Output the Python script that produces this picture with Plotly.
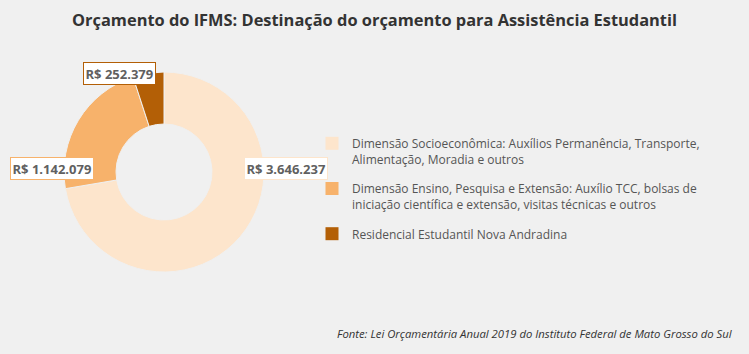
import plotly.graph_objects as go

categories = [
    "Dimensão Socioeconômica: Auxílios Permanência, Transporte,<br>Alimentação, Moradia e outros",
    "Dimensão Ensino, Pesquisa e Extensão: Auxílio TCC, bolsas de<br>iniciação científica e extensão, visitas técnicas e outros",
    "Residencial Estudantil Nova Andradina",
]
values = [3646237, 1142079, 252379]
value_labels = ["R$ 3.646.237", "R$ 1.142.079", "R$ 252.379"]
colors = ["#fde5cc", "#f7b26b", "#b35f06"]

W, H = 749, 354
cx, cy, R = 164, 172, 100

fig = go.Figure(go.Pie(
    labels=categories,
    values=values,
    hole=0.48,
    sort=False,
    direction="clockwise",
    rotation=0,
    marker=dict(colors=colors, line=dict(color="#f0f0f0", width=1)),
    textinfo="none",
    hoverinfo="label+value",
    showlegend=False,
    domain=dict(x=[(cx - R) / W, (cx + R) / W], y=[(H - cy - R) / H, (H - cy + R) / H]),
))

# legend entries (one group per category so the group gap can space them)
for i, (cat, col) in enumerate(zip(categories, colors)):
    fig.add_trace(go.Scatter(
        x=[None], y=[None], mode="markers", name=cat,
        legendgroup=f"g{i}",
        marker=dict(symbol="square", size=13, color=col),
        hoverinfo="skip",
    ))

label_pos = [(285.5, 168), (51.5, 168), (119.5, 73)]
annotations = []
for (px, py), txt, col in zip(label_pos, value_labels, colors):
    annotations.append(dict(
        x=px / W, y=1 - py / H, xref="paper", yref="paper",
        text="<b>" + txt + "</b>", showarrow=False,
        font=dict(family="Open Sans", size=13, color="#606060"),
        bgcolor="#ffffff", bordercolor=col, borderwidth=1, borderpad=1.5,
        xanchor="center", yanchor="middle",
    ))
annotations.append(dict(
    x=735 / W, y=1 - 333 / H, xref="paper", yref="paper",
    text="<i>Fonte: Lei Orçamentária Anual 2019 do Instituto Federal de Mato Grosso do Sul</i>",
    showarrow=False, xanchor="right", yanchor="middle",
    font=dict(family="Open Sans", size=11.3, color="#333333"),
))

fig.update_layout(
    width=W, height=H,
    paper_bgcolor="#f0f0f0", plot_bgcolor="#f0f0f0",
    margin=dict(l=0, r=0, t=0, b=0),
    xaxis=dict(visible=False), yaxis=dict(visible=False),
    title=dict(text="<b>Orçamento do IFMS: Destinação do orçamento para Assistência Estudantil</b>",
               x=0.5, xanchor="center", y=1 - 20 / H, yanchor="middle",
               font=dict(family="Open Sans", size=16.4, color="#333333")),
    legend=dict(x=312 / W, y=1 - 129 / H, xanchor="left", yanchor="top",
                font=dict(family="Open Sans", size=12, color="#555555"),
                bgcolor="rgba(0,0,0,0)", tracegroupgap=11, valign="top",
                itemwidth=30),
    annotations=annotations,
    font=dict(family="Open Sans"),
)

fig.write_html("out.html")
